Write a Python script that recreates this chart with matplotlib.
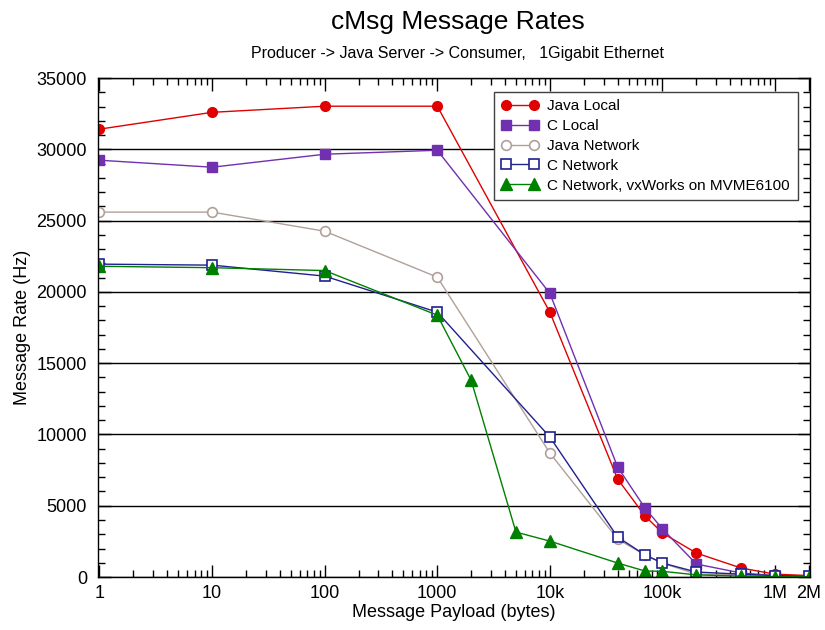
import matplotlib
matplotlib.use("Agg")
import matplotlib.pyplot as plt
from matplotlib.ticker import FixedLocator, LogLocator, MultipleLocator, NullFormatter

plt.rcParams['font.family'] = ['Liberation Sans', 'DejaVu Sans']

x_main = [1, 10, 100, 1000, 10000, 40000, 70000, 100000, 200000, 500000, 1000000, 2000000]
java_local = [31420, 32600, 33030, 33030, 18580, 6870, 4280, 3090, 1680, 630, 200, 100]
c_local = [29240, 28750, 29660, 29940, 19900, 7710, 4840, 3370, 910, 280, 100, 80]
java_net = [25600, 25600, 24260, 21040, 8700, 2660, 1540, 980, 200, 150, 100, 50]
c_net = [21950, 21880, 21110, 18580, 9820, 2800, 1550, 980, 350, 200, 100, 60]
x_vx = [1, 10, 100, 1000, 2000, 5000, 10000, 40000, 70000, 100000, 200000, 500000, 1000000, 2000000]
c_vx = [21800, 21700, 21500, 18370, 13800, 3150, 2520, 980, 420, 400, 150, 60, 30, 20]

tick_vals = [1, 10, 100, 1000, 10000, 100000, 1000000, 2000000]
tick_labels = ["1", "10", "100", "1000", "10k", "100k", "1M", "2M"]

fig = plt.figure(figsize=(8.25, 6.3), dpi=100)
ax = fig.add_axes([0.1188, 0.0841, 0.8632, 0.7919])

ax.plot(x_main, java_local, color='#e00000', marker='o', ms=7, lw=1, label='Java Local')
ax.plot(x_main, c_local, color='#7030b0', marker='s', ms=7, lw=1, label='C Local')
ax.plot(x_main, java_net, color='#b0a098', marker='o', ms=7, lw=1, mfc='white', mew=1.2, label='Java Network')
ax.plot(x_main, c_net, color='#202090', marker='s', ms=7, lw=1, mfc='white', mew=1.2, label='C Network')
ax.plot(x_vx, c_vx, color='#008000', marker='^', ms=8, lw=1, label='C Network, vxWorks on MVME6100')

ax.set_xscale('log')
ax.set_xlim(0.97, 2.05e6)
ax.set_ylim(0, 35000)
ax.xaxis.set_major_locator(FixedLocator(tick_vals))
ax.set_xticklabels(tick_labels)
ax.xaxis.set_minor_locator(LogLocator(base=10, subs=range(2, 10), numticks=20))
ax.xaxis.set_minor_formatter(NullFormatter())
ax.yaxis.set_major_locator(MultipleLocator(5000))
ax.yaxis.set_minor_locator(MultipleLocator(1000))
ax.tick_params(which='both', direction='in', top=True, right=True, labelsize=13)
ax.tick_params(axis='y', which='major', pad=8)
ax.tick_params(axis='x', which='major', pad=6)
ax.tick_params(which='major', length=9, width=1)
ax.tick_params(which='minor', length=5, width=1)
ax.grid(axis='y', which='major', color='black', lw=1)
for s in ax.spines.values():
    s.set_linewidth(1)

ax.set_xlabel('Message Payload (bytes)', fontsize=13, labelpad=1)
ax.set_ylabel('Message Rate (Hz)', fontsize=13, labelpad=4)

fig.text(0.555, 0.965, 'cMsg Message Rates', ha='center', va='center', fontsize=19)
fig.text(0.555, 0.915, 'Producer -> Java Server -> Consumer,   1Gigabit Ethernet', ha='center', va='center', fontsize=11.5)

leg = ax.legend(loc='upper right', bbox_to_anchor=(0.993, 0.988), fontsize=11, frameon=True,
                fancybox=False, edgecolor='#404040', framealpha=1, handlelength=2.4,
                numpoints=2, borderpad=0.5, labelspacing=0.38, handletextpad=0.6)
leg.get_frame().set_linewidth(1)

fig.savefig('out.png', dpi=100)
